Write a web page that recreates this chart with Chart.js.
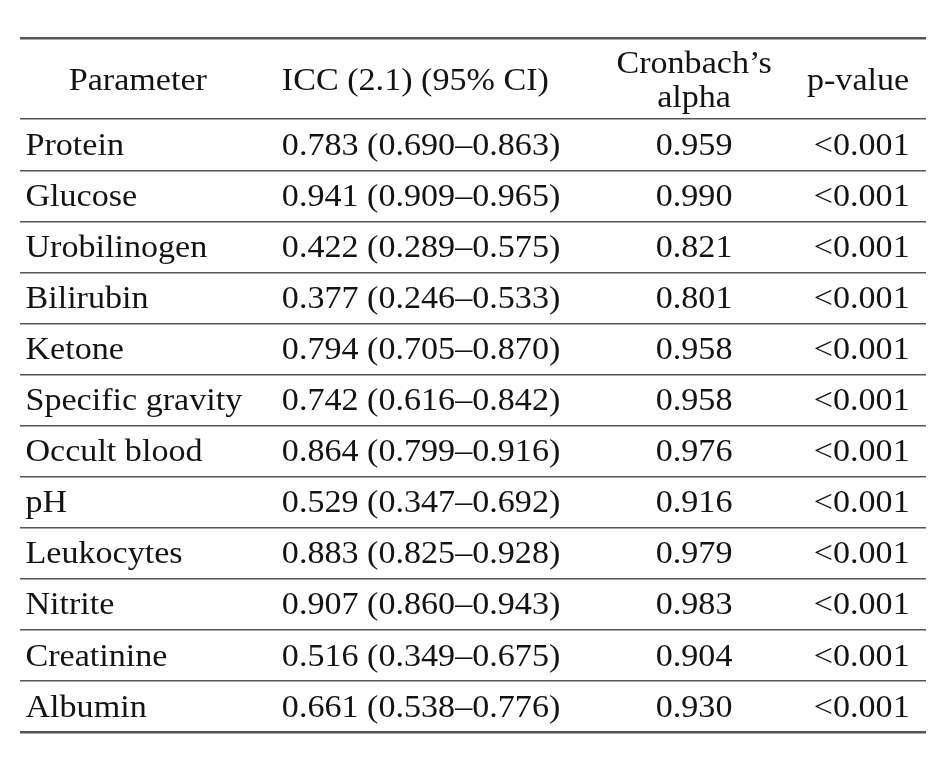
<!DOCTYPE html>
<html><head><meta charset="utf-8">
<script src="https://cdn.jsdelivr.net/npm/chart.js@4"></script>
<style>html,body{margin:0;padding:0;background:#fff}#w{width:946px;height:769px}</style>
</head><body><div id="w"><canvas id="c"></canvas></div>
<script>
const headers = ["Parameter", "ICC (2.1) (95% CI)", "Cronbach’s|alpha", "p-value"];
const parameters = ["Protein","Glucose","Urobilinogen","Bilirubin","Ketone","Specific gravity","Occult blood","pH","Leukocytes","Nitrite","Creatinine","Albumin"];
const icc = ["0.783","0.941","0.422","0.377","0.794","0.742","0.864","0.529","0.883","0.907","0.516","0.661"];
const ciLow = ["0.690","0.909","0.289","0.246","0.705","0.616","0.799","0.347","0.825","0.860","0.349","0.538"];
const ciHigh = ["0.863","0.965","0.575","0.533","0.870","0.842","0.916","0.692","0.928","0.943","0.675","0.776"];
const alpha = ["0.959","0.990","0.821","0.801","0.958","0.958","0.976","0.916","0.979","0.983","0.904","0.930"];
const pval = ["<0.001","<0.001","<0.001","<0.001","<0.001","<0.001","<0.001","<0.001","<0.001","<0.001","<0.001","<0.001"];

const HEAD = -1.59;
const FONT = '31px "Liberation Serif", serif';
const INK = '#151213';
const SX = 1.1;
function txt(ctx, s, px, py, align){
  const w = ctx.measureText(s).width*SX;
  let left = align==='center' ? px-w/2 : align==='right' ? px-w : px;
  ctx.save(); ctx.translate(left, py); ctx.scale(SX,1); ctx.textAlign='left'; ctx.fillText(s,0,0); ctx.restore();
}
const tablePlugin = {
  id:'table',
  afterDatasetsDraw(chart){
    const {ctx, scales:{x,y}} = chart;
    ctx.save();
    ctx.fillStyle = INK; ctx.font = FONT; ctx.textBaseline = 'middle';
    const hy = y.getPixelForValue(HEAD/2)+3;
    txt(ctx, headers[0], x.getPixelForValue(0.13), hy, 'center');
    txt(ctx, headers[1], x.getPixelForValue(0.289), hy, 'left');
    const cl = headers[2].split('|');
    txt(ctx, cl[0], x.getPixelForValue(0.744), hy-17, 'center');
    txt(ctx, cl[1], x.getPixelForValue(0.744), hy+17, 'center');
    txt(ctx, headers[3], x.getPixelForValue(0.925), hy, 'center');
    parameters.forEach((p,i)=>{
      const py = y.getPixelForValue(i+0.5)+2;
      txt(ctx, p, x.getPixelForValue(0.006), py, 'left');
      txt(ctx, icc[i]+' (' + ciLow[i] + '–' + ciHigh[i] + ')', x.getPixelForValue(0.289), py, 'left');
      txt(ctx, alpha[i], x.getPixelForValue(0.744), py, 'center');
      txt(ctx, pval[i], x.getPixelForValue(0.982), py, 'right');
    });
    ctx.restore();
  }
};
new Chart(document.getElementById('c'), {
  type:'scatter',
  data:{datasets:[{data:parameters.map((p,i)=>({x:0.5,y:i+0.5})), pointRadius:0}]},
  options:{
    responsive:true, maintainAspectRatio:false, animation:false,
    layout:{padding:{left:20,right:20,top:38,bottom:37}},
    plugins:{legend:{display:false},tooltip:{enabled:false}},
    scales:{
      x:{type:'linear',min:0,max:1,display:false},
      y:{type:'linear',reverse:true,min:HEAD,max:parameters.length,
        border:{display:false},
        ticks:{display:false},
        afterBuildTicks(s){ s.ticks=[HEAD].concat(parameters.map((p,i)=>i)).concat([parameters.length]).map(v=>({value:v})); },
        grid:{drawTicks:false,
          color:'#555',
          lineWidth:(c)=> (c.tick && (c.tick.value===HEAD || c.tick.value===parameters.length)) ? 2.5 : 1.5}
      }
    }
  },
  plugins:[tablePlugin]
});
</script></body></html>
